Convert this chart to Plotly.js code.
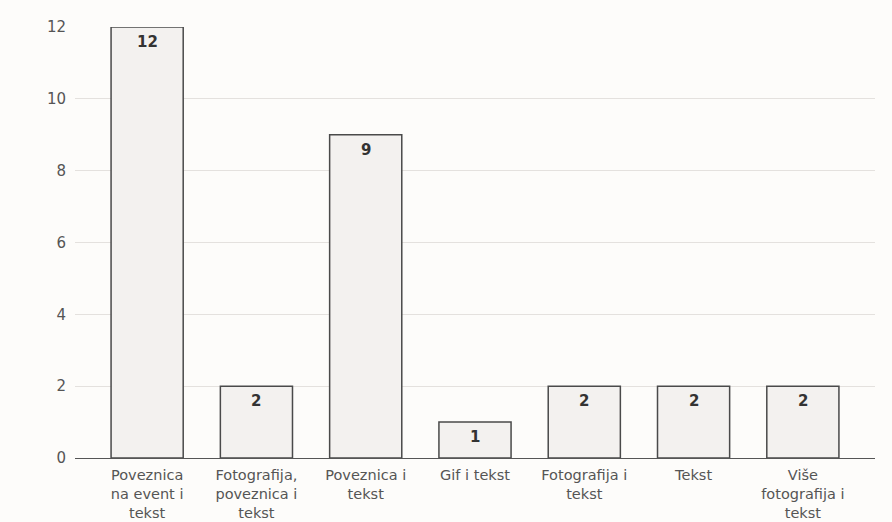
<!DOCTYPE html>
<html>
<head>
<meta charset="utf-8">
<script src="https://cdn.plot.ly/plotly-3.0.1.min.js"></script>
<style>html,body{margin:0;padding:0;background:#fdfcfa;}</style>
</head>
<body>
<div id="chart" style="width:892px;height:522px;"></div>
<script>
const categories = [
  "Poveznica<br>na event i<br>tekst",
  "Fotografija,<br>poveznica i<br>tekst",
  "Poveznica i<br>tekst",
  "Gif i tekst",
  "Fotografija i<br>tekst",
  "Tekst",
  "Više<br>fotografija i<br>tekst"
];
const values = [12, 2, 9, 1, 2, 2, 2];
const yTicks = [0, 2, 4, 6, 8, 10, 12];

const trace = {
  type: 'bar',
  x: categories,
  y: values,
  width: 0.66,
  marker: {color: '#f3f1ef', line: {color: '#4a4a4a', width: 1.5}},
  hoverinfo: 'none'
};

const annotations = categories.map((c, i) => ({
  x: c, y: values[i], xref: 'x', yref: 'y',
  text: '<b>' + values[i] + '</b>',
  showarrow: false, yanchor: 'middle', yshift: -15,
  font: {family: 'DejaVu Sans, sans-serif', size: 15, color: '#333'}
}));

const layout = {
  width: 892, height: 522,
  margin: {l: 75, r: 17, t: 27, b: 64},
  paper_bgcolor: '#fdfcfa',
  plot_bgcolor: '#fdfcfa',
  showlegend: false,
  font: {family: 'DejaVu Sans, sans-serif', color: '#555', size: 14},
  annotations: annotations,
  xaxis: {
    type: 'category',
    range: [-0.66, 6.66],
    showgrid: false,
    showline: true, linecolor: '#555', linewidth: 1,
    ticks: '', ticklabelstandoff: 4,
    tickfont: {family: 'DejaVu Sans, sans-serif', size: 14.5, color: '#555'},
    zeroline: false
  },
  yaxis: {
    range: [0, 12],
    tickvals: yTicks,
    ticktext: yTicks.map(String),
    showgrid: true, gridcolor: '#e4e1de', gridwidth: 1,
    zeroline: false, showline: false,
    ticks: '', ticklabelstandoff: 8,
    tickfont: {family: 'DejaVu Sans, sans-serif', size: 15, color: '#555'}
  }
};

Plotly.newPlot('chart', [trace], layout, {displayModeBar: false, staticPlot: true});
</script>
</body>
</html>
